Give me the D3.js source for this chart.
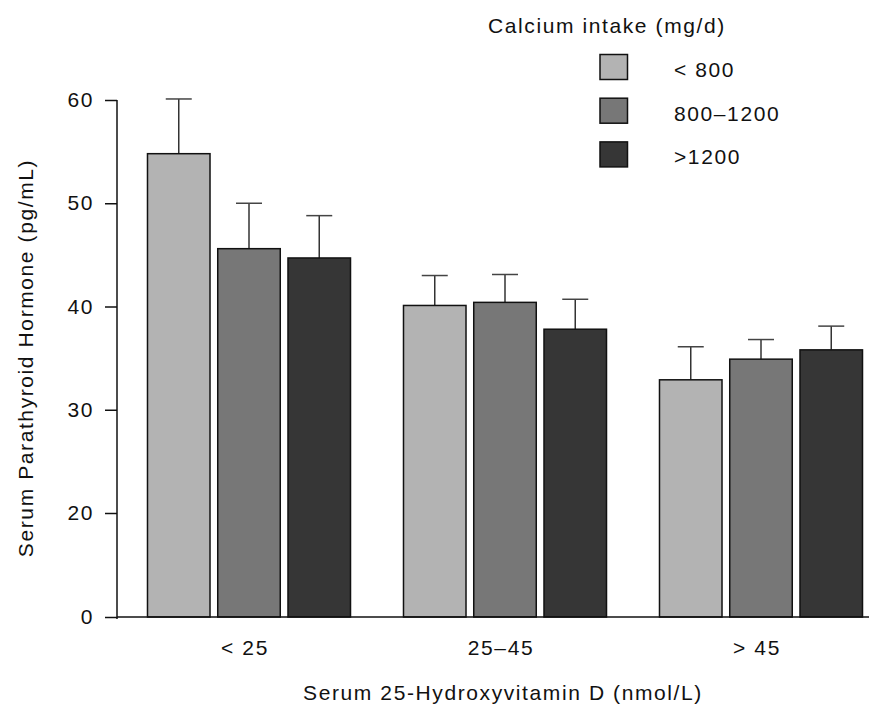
<!DOCTYPE html>
<meta charset="utf-8">
<style>
  body { margin: 0; background: #fff; }
  text { font-family: "Liberation Sans", Arial, sans-serif; fill: #111; letter-spacing: 1.6px; }
</style>
<svg width="869" height="705"></svg>
<script src="https://cdnjs.cloudflare.com/ajax/libs/d3/7.8.5/d3.min.js"></script>
<script>
// vitamin D groups on the x axis
var groups = ['< 25', '25\u201345', '> 45']
// calcium intake series
var series = ['< 800', '800\u20131200', '>1200']
var colors = ['#b3b3b3', '#777777', '#363636']
// mean PTH per group, one array per series
var lowCa = [54.8, 40.1, 32.9]
var midCa = [45.6, 40.4, 34.9]
var highCa = [44.7, 37.8, 35.8]
// error bar (upper) sizes
var lowErr = [5.3, 2.9, 3.2]
var midErr = [4.4, 2.7, 1.9]
var highErr = [4.1, 2.9, 2.3]
var yTicks = [0, 20, 30, 40, 50, 60]

var means = [lowCa, midCa, highCa]
var errs = [lowErr, midErr, highErr]
var fs = '21px'

var svg = d3.select('svg')

// broken axis: 0 sits where 10 would be
var y = d3.scaleLinear().domain([0, 20, 60]).range([617, 513, 100])

var x0 = d3.scaleBand().domain(groups).range([121, 889])
  .paddingInner(0.207).paddingOuter(0.1035)
var x1 = d3.scaleBand().domain(series).range([0, x0.bandwidth()])
  .paddingInner(0.11)

var rows = []
groups.forEach(function (g, gi) {
  series.forEach(function (s, si) {
    rows.push({ g: g, s: s, si: si, v: means[si][gi], e: errs[si][gi] })
  })
})

// error bars first, bars drawn over them
var eb = svg.append('g').selectAll('g').data(rows).enter().append('g')
  .attr('transform', function (d) { return 'translate(' + (x0(d.g) + x1(d.s) + x1.bandwidth() / 2) + ',0)' })
eb.append('line')
  .attr('y1', function (d) { return y(d.v) })
  .attr('y2', function (d) { return y(d.v + d.e) })
  .attr('stroke', '#333').attr('stroke-width', 1.5)
eb.append('line')
  .attr('x1', -13).attr('x2', 13)
  .attr('y1', function (d) { return y(d.v + d.e) })
  .attr('y2', function (d) { return y(d.v + d.e) })
  .attr('stroke', '#444').attr('stroke-width', 1.5)

svg.append('g').selectAll('rect').data(rows).enter().append('rect')
  .attr('x', function (d) { return x0(d.g) + x1(d.s) })
  .attr('width', x1.bandwidth())
  .attr('y', function (d) { return y(d.v) })
  .attr('height', function (d) { return y(0) - y(d.v) })
  .attr('fill', function (d) { return colors[d.si] })
  .attr('stroke', '#111').attr('stroke-width', 1.5)

// y axis
var yAxis = svg.append('g').attr('transform', 'translate(117,0)')
  .call(d3.axisLeft(y).tickValues(yTicks).tickSize(12).tickPadding(11))
yAxis.select('.domain').attr('stroke', '#111').attr('stroke-width', 1.5)
  .attr('d', 'M0,100V619')
yAxis.selectAll('.tick line').attr('stroke', '#111').attr('stroke-width', 1.5)
yAxis.selectAll('text').style('font-size', fs).attr('fill', '#111')
  .attr('font-family', null)

// x axis baseline
svg.append('line').attr('x1', 117).attr('x2', 869)
  .attr('y1', y(0)).attr('y2', y(0))
  .attr('stroke', '#111').attr('stroke-width', 1.5)

svg.append('g').selectAll('text').data(groups).enter().append('text')
  .attr('x', function (g) { return x0(g) + x0.bandwidth() / 2 - 4 })
  .attr('y', 655)
  .attr('text-anchor', 'middle')
  .style('font-size', fs)
  .text(function (g) { return g })

svg.append('text')
  .attr('x', 503).attr('y', 700)
  .attr('text-anchor', 'middle')
  .style('font-size', fs)
  .text('Serum 25-Hydroxyvitamin D (nmol/L)')

svg.append('text')
  .attr('transform', 'translate(33,358) rotate(-90)')
  .attr('text-anchor', 'middle')
  .style('font-size', fs)
  .text('Serum Parathyroid Hormone (pg/mL)')

// legend
var legend = svg.append('g')
legend.append('text').attr('x', 488).attr('y', 33)
  .style('font-size', fs).text('Calcium intake (mg/d)')
var li = legend.selectAll('g.item').data(series).enter().append('g')
  .attr('transform', function (s, i) { return 'translate(600,' + (54.5 + i * 43.7) + ')' })
li.append('rect').attr('width', 27.5).attr('height', 25)
  .attr('fill', function (s, i) { return colors[i] })
  .attr('stroke', '#111').attr('stroke-width', 1.5)
li.append('text').attr('x', 74).attr('y', 22.5)
  .style('font-size', fs).text(function (s) { return s })
</script>
